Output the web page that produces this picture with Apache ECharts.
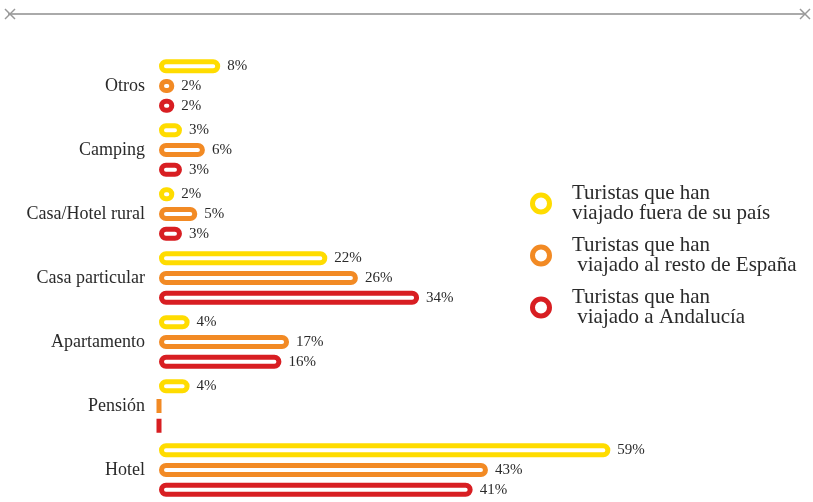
<!doctype html>
<html>
<head>
    <meta charset="utf-8">
    <title>Tipo de alojamiento</title>
    <style>
    html, body { margin: 0; padding: 0; background: #fff; }
    #main { width: 813px; height: 502px; }
    </style>
</head>
<body>
    <div id="main"></div>
    <script src="https://cdn.jsdelivr.net/npm/echarts@6/dist/echarts.min.js"></script>
    <script>
    // datos
    var categorias = ['Otros', 'Camping', 'Casa/Hotel rural', 'Casa particular', 'Apartamento', 'Pensión', 'Hotel'];
    var fueraPais = [8, 3, 2, 22, 4, 4, 59];
    var restoEspana = [2, 6, 5, 26, 17, 0, 43];
    var andalucia = [2, 3, 3, 34, 16, 0, 41];
    var nombres = ['Turistas que han\nviajado fuera de su país', 'Turistas que han\n viajado al resto de España', 'Turistas que han\n viajado a Andalucía'];
    var colores = ['#FFDC00', '#F28A24', '#D81E22'];

    var fuente = '"Liberation Serif", "DejaVu Serif", serif';

    function serie(i, valores) {
        return {
            name: nombres[i],
            type: 'bar',
            data: valores,
            barWidth: 14,
            barGap: '41%',
            itemStyle: {
                color: '#fff',
                borderColor: colores[i],
                borderWidth: 5,
                borderRadius: 7
            },
            label: {
                show: true,
                position: 'right',
                distance: 7,
                color: '#2a2a2a',
                fontFamily: fuente,
                fontSize: 15,
                formatter: function (p) { return p.value > 0 ? p.value + '%' : ''; }
            },
            silent: true
        };
    }

    var chart = echarts.init(document.getElementById('main'));
    chart.setOption({
        animation: false,
        grid: { left: 159, right: 42, top: 54, bottom: 0, containLabel: false },
        xAxis: { type: 'value', min: 0, max: 80, show: false },
        yAxis: {
            type: 'category',
            data: categorias,
            inverse: true,
            axisLine: { show: false },
            axisTick: { show: false },
            axisLabel: { margin: 14, color: '#2a2a2a', fontFamily: fuente, fontSize: 18 }
        },
        legend: {
            orient: 'vertical',
            left: 525,
            top: 178,
            itemGap: 11,
            itemWidth: 52,
            itemHeight: 17,
            icon: 'circle',
            selectedMode: false,
            textStyle: { fontFamily: fuente, fontSize: 21, color: '#2a2a2a', lineHeight: 20 },
            data: nombres.map(function (n, i) {
                return { name: n, itemStyle: { color: '#fff', borderColor: colores[i], borderWidth: 5 } };
            })
        },
        graphic: [
            { type: 'line', shape: { x1: 8, y1: 14, x2: 805, y2: 14 }, style: { stroke: '#aaa', lineWidth: 2 } },
            { type: 'line', shape: { x1: 5, y1: 9, x2: 15, y2: 19 }, style: { stroke: '#999', lineWidth: 1.5 } },
            { type: 'line', shape: { x1: 5, y1: 19, x2: 15, y2: 9 }, style: { stroke: '#999', lineWidth: 1.5 } },
            { type: 'line', shape: { x1: 800, y1: 9, x2: 810, y2: 19 }, style: { stroke: '#999', lineWidth: 1.5 } },
            { type: 'line', shape: { x1: 800, y1: 19, x2: 810, y2: 9 }, style: { stroke: '#999', lineWidth: 1.5 } }
        ],
        series: [
            serie(0, fueraPais),
            serie(1, restoEspana),
            serie(2, andalucia)
        ]
    });
    </script>
</body>
</html>
